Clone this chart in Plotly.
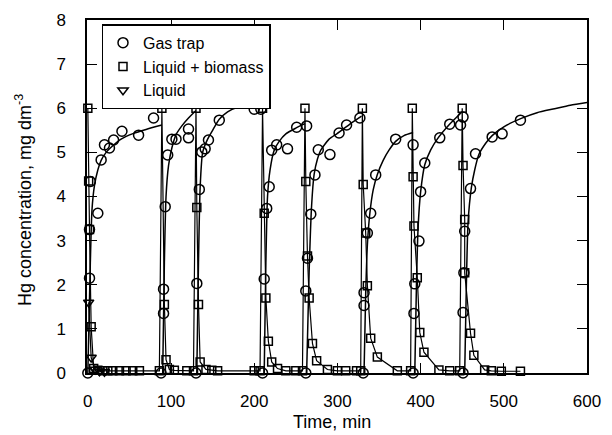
import plotly.graph_objects as go

# ---- Gas trap measurements (time in min, Hg in mg dm^-3) ----
gas_t = [0, 2, 2, 3, 12, 16, 20, 26, 31, 41, 61, 79,
         88, 91, 91, 93, 96, 101, 106, 121, 121,
         130, 131, 134, 137, 141, 145, 158, 200, 208,
         210, 212, 215, 218, 221, 227, 240, 251, 263,
         262, 262, 264, 268, 273, 277, 291, 302, 311, 327,
         331, 332, 332, 336, 340, 346, 370, 391,
         391, 392, 393, 398, 400, 405, 423, 435, 448, 451,
         451, 451, 452, 453, 460, 466, 486, 498, 520]
gas_y = [0.0, 2.15, 3.25, 4.34, 3.62, 4.83, 5.17, 5.10, 5.28, 5.48, 5.39, 5.78,
         0.0, 1.35, 1.90, 3.77, 4.94, 5.30, 5.30, 5.53, 5.33,
         0.0, 2.03, 4.16, 5.01, 5.08, 5.28, 5.73, 5.98, 5.98,
         0.0, 2.13, 3.73, 4.22, 5.05, 5.17, 5.08, 5.57, 5.60,
         0.0, 1.86, 2.60, 3.60, 4.49, 5.06, 4.95, 5.44, 5.62, 5.78,
         0.0, 1.53, 1.82, 3.17, 3.62, 4.49, 5.30, 5.17,
         0.0, 1.35, 2.02, 2.99, 4.11, 4.76, 5.33, 5.64, 5.62, 5.80,
         0.0, 1.37, 2.27, 3.21, 4.18, 4.97, 5.35, 5.42, 5.73]

# ---- Liquid + biomass measurements ----
lb_t = [0, 1, 2, 4, 7, 12, 18, 24, 30, 38, 46, 54, 62, 86,
        89, 92, 94, 98, 104, 119, 127,
        130, 131, 133, 135, 142, 149, 156, 200, 207,
        210, 212, 214, 217, 221, 228, 238, 250, 258,
        261, 262, 264, 266, 270, 275, 288, 300, 310, 323, 328,
        330, 331, 334, 336, 340, 348, 372, 388,
        390, 391, 392, 396, 399, 404, 422, 435, 447,
        450, 451, 453, 453, 460, 464, 477, 485, 497, 520]
lb_y = [6.0, 4.35, 3.25, 1.05, 0.10, 0.06, 0.05, 0.05, 0.05, 0.05, 0.05, 0.05, 0.05, 0.05,
        6.0, 1.55, 0.30, 0.08, 0.06, 0.05, 0.05,
        6.0, 3.75, 1.55, 0.25, 0.08, 0.06, 0.05, 0.05, 0.05,
        6.0, 3.62, 1.70, 0.72, 0.25, 0.10, 0.05, 0.05, 0.05,
        6.0, 4.34, 2.65, 1.70, 0.67, 0.28, 0.08, 0.05, 0.05, 0.05, 0.05,
        6.0, 4.27, 3.17, 1.98, 0.79, 0.36, 0.05, 0.05,
        6.0, 4.45, 3.33, 2.16, 0.92, 0.47, 0.07, 0.05, 0.05,
        6.0, 4.70, 3.48, 2.27, 0.90, 0.40, 0.07, 0.05, 0.04, 0.04]

# ---- Liquid measurements ----
liq_t = [1, 4, 9, 14, 20]
liq_y = [1.60, 0.35, 0.08, 0.04, 0.03]

# ---- Fitted gas-trap curves, one list per loading cycle ----
fit_t = [
    [0, 3, 5, 8, 12, 16, 22, 30, 40, 55, 70, 89],
    [90, 92, 94, 97, 101, 106, 113, 121, 130],
    [131, 133, 135, 138, 144, 150, 158, 168, 180, 195, 210],
    [212, 214, 216, 219, 224, 230, 238, 250, 261],
    [263, 266, 269, 272, 276, 280, 290, 300, 315, 329],
    [332, 334, 336, 339, 343, 348, 355, 362, 370, 380, 391],
    [393, 395, 397, 400, 405, 412, 420, 434, 450],
    [453, 455, 457, 461, 465, 470, 478, 486, 500, 521, 540, 561, 580, 600],
]
fit_y = [
    [0, 2.5, 3.7, 4.25, 4.6, 4.82, 5.0, 5.15, 5.3, 5.43, 5.52, 5.62],
    [0, 2.5, 4.0, 4.7, 5.1, 5.4, 5.6, 5.78, 5.95],
    [0, 2.5, 4.2, 5.0, 5.3, 5.5, 5.75, 5.92, 6.02, 6.07, 6.08],
    [0, 2.5, 4.0, 4.6, 5.05, 5.25, 5.42, 5.55, 5.65],
    [0, 2.3, 3.8, 4.5, 4.85, 5.05, 5.3, 5.43, 5.64, 5.82],
    [0, 1.8, 2.9, 3.62, 4.15, 4.5, 4.82, 5.05, 5.25, 5.38, 5.45],
    [0, 2.0, 3.3, 4.1, 4.72, 5.05, 5.3, 5.62, 5.92],
    [0, 2.0, 3.4, 4.2, 4.6, 4.95, 5.2, 5.38, 5.58, 5.77, 5.9, 5.99, 6.07, 6.13],
]

FONT = "Arial, Liberation Sans, sans-serif"

curve_x, curve_y = [], []
for tx, ty in zip(fit_t, fit_y):
    curve_x += tx + [None]
    curve_y += ty + [None]

fig = go.Figure()

# fitted curves
fig.add_trace(go.Scatter(x=curve_x, y=curve_y, mode="lines",
                         line=dict(color="black", width=1.5, shape="spline", smoothing=0.6),
                         connectgaps=False, showlegend=False, hoverinfo="skip"))
# connecting lines for the liquid phases
fig.add_trace(go.Scatter(x=lb_t, y=lb_y, mode="lines",
                         line=dict(color="black", width=1.2),
                         showlegend=False, hoverinfo="skip"))
fig.add_trace(go.Scatter(x=liq_t, y=liq_y, mode="lines",
                         line=dict(color="black", width=1.2),
                         showlegend=False, hoverinfo="skip"))

# measured points
fig.add_trace(go.Scatter(x=gas_t, y=gas_y, mode="markers", name="Gas trap",
                         marker=dict(symbol="circle-open", size=10, color="black",
                                     line=dict(width=1.5, color="black")),
                         cliponaxis=False))
fig.add_trace(go.Scatter(x=lb_t, y=lb_y, mode="markers", name="Liquid + biomass",
                         marker=dict(symbol="square-open", size=8, color="black",
                                     line=dict(width=1.5, color="black")),
                         cliponaxis=False))
fig.add_trace(go.Scatter(x=liq_t, y=liq_y, mode="markers", name="Liquid",
                         marker=dict(symbol="triangle-down-open", size=9, color="black",
                                     line=dict(width=1.5, color="black")),
                         cliponaxis=False))

axis_common = dict(showline=True, linecolor="black", linewidth=1.5, mirror="ticks",
                   ticks="inside", ticklen=10, tickwidth=1.2, tickcolor="black",
                   showgrid=False, zeroline=False, ticklabeloverflow="allow",
                   tickfont=dict(family=FONT, size=17, color="black"))

fig.update_xaxes(range=[-1, 600], tickvals=[0, 100, 200, 300, 400, 500, 600],
                 ticklabelstandoff=12, **axis_common)
fig.update_yaxes(range=[0, 8], tickvals=[0, 1, 2, 3, 4, 5, 6, 7, 8],
                 ticklabelstandoff=16, **axis_common)

fig.update_layout(
    width=612, height=435,
    margin=dict(l=87, r=11, t=17, b=62),
    paper_bgcolor="white", plot_bgcolor="white",
    font=dict(family=FONT, color="black"),
    legend=dict(x=0.029, y=0.988, xanchor="left", yanchor="top",
                bgcolor="white", bordercolor="black", borderwidth=1.5,
                font=dict(family=FONT, size=16, color="black"),
                tracegroupgap=0, itemwidth=30),
    annotations=[
        dict(text="Time, min", xref="paper", yref="paper", x=0.49, y=-0.14,
             xanchor="center", yanchor="middle", showarrow=False,
             font=dict(family=FONT, size=18, color="black")),
        dict(text="Hg concentration, mg dm<sup>-3</sup>", xref="paper", yref="paper",
             x=-0.128, y=0.49, xanchor="center", yanchor="middle", textangle=-90,
             showarrow=False, font=dict(family=FONT, size=18, color="black")),
    ],
)

fig.write_html("out.html")
